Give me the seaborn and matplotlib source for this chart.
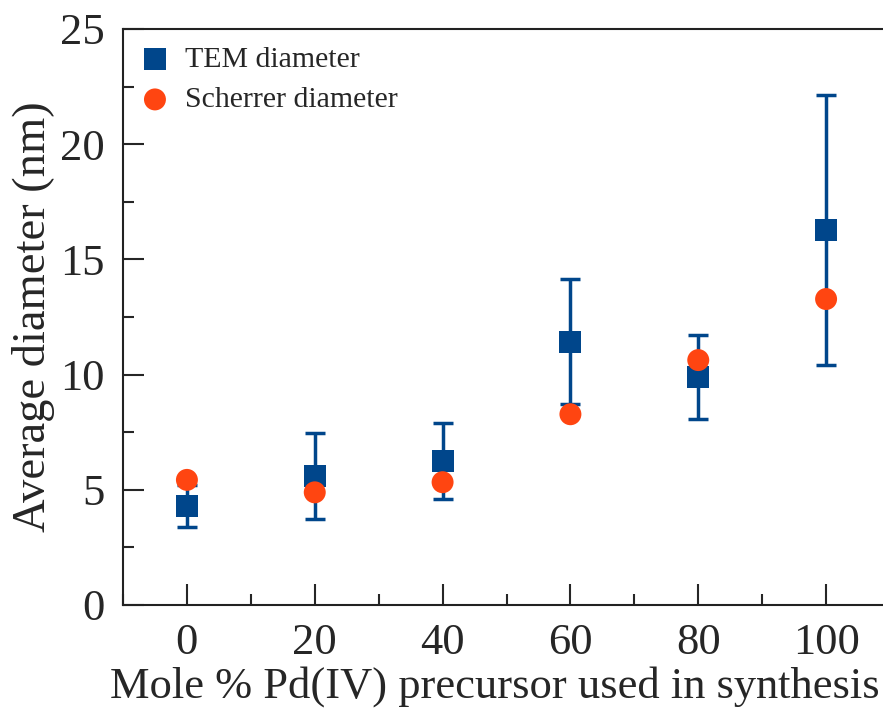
import numpy as np
import pandas as pd
import matplotlib
matplotlib.use("Agg")
import matplotlib.pyplot as plt
from matplotlib.ticker import MultipleLocator
import seaborn as sns

# Data
mole_pct = [0, 20, 40, 60, 80, 100]
tem_diam = [4.30, 5.60, 6.25, 11.43, 9.91, 16.28]
tem_err = [0.90, 1.85, 1.67, 2.70, 1.83, 5.86]
scherrer_diam = [5.43, 4.89, 5.33, 8.28, 10.63, 13.28]
x_ticks = [0, 20, 40, 60, 80, 100]
y_ticks = [0, 5, 10, 15, 20, 25]

sns.set_style("ticks")
plt.rcParams['font.family'] = ['Liberation Serif', 'DejaVu Serif']

fig = plt.figure(figsize=(8.83, 7.09), dpi=100)
ax = fig.add_axes([123/883, 104/709, 767/883, 576/709])

blue = "#00468B"
red = "#FF4511"

df_tem = pd.DataFrame({"x": mole_pct, "y": tem_diam})
df_sch = pd.DataFrame({"x": mole_pct, "y": scherrer_diam})

ax.errorbar(mole_pct, tem_diam, yerr=tem_err, fmt="none", ecolor=blue,
            elinewidth=2.5, capsize=7.5, capthick=2.5, zorder=2)
sns.scatterplot(data=df_tem, x="x", y="y", marker="s", s=250,
                color=blue, edgecolor="none", ax=ax, zorder=3, label="TEM diameter")
sns.scatterplot(data=df_sch, x="x", y="y", marker="o", s=250,
                color=red, edgecolor="none", ax=ax, zorder=4, label="Scherrer diameter")

ax.set_xlim(-10, 110)
ax.set_ylim(0, 25)
ax.set_xticks(x_ticks)
ax.set_yticks(y_ticks)
ax.xaxis.set_minor_locator(MultipleLocator(10))
ax.yaxis.set_minor_locator(MultipleLocator(2.5))
ax.tick_params(which="major", direction="in", length=15, width=1.5, labelsize=32,
               top=False, right=False)
ax.tick_params(axis="y", which="major", pad=13)
ax.tick_params(axis="x", which="major", pad=13)
ax.tick_params(which="minor", direction="in", length=8, width=1.5,
               top=False, right=False)
for s in ax.spines.values():
    s.set_linewidth(1.5)
    s.set_color("#222222")

ax.set_xlabel("Mole % Pd(IV) precursor used in synthesis", fontsize=32)
ax.xaxis.set_label_coords(0.485, -0.106)
ax.set_ylabel("Average diameter (nm)", fontsize=33.5, labelpad=4)

leg = ax.legend(loc="upper left", frameon=False, fontsize=21.5, handletextpad=0.5,
                handlelength=1.0, borderaxespad=0.2, borderpad=0.37,
                labelspacing=0.45, markerscale=1.0,
                bbox_to_anchor=(0.0, 1.0))

fig.savefig("out.png", dpi=100)
